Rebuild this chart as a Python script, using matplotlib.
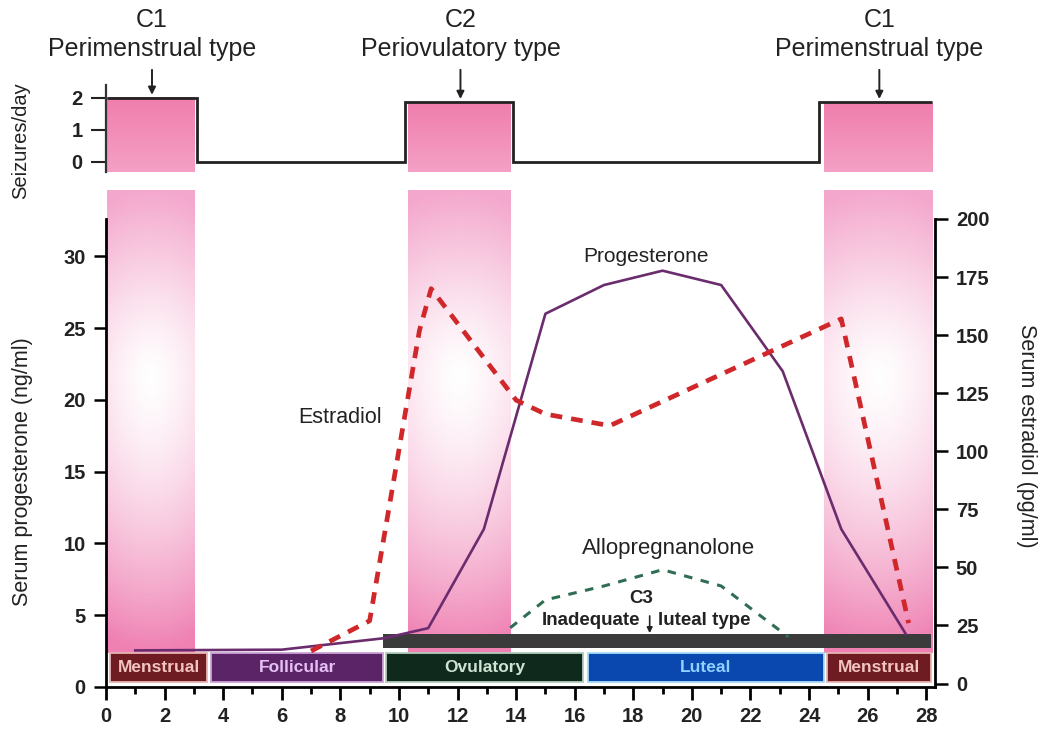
import numpy as np
import matplotlib
matplotlib.use('Agg')
import matplotlib.pyplot as plt

plt.rcParams['font.family'] = ['Liberation Sans', 'DejaVu Sans']

# ---------------- data ----------------
days_prog = [1.0, 6.0, 9.5, 11.0, 12.9, 15.0, 17.0, 19.0, 21.0, 23.1, 25.1, 27.3]
progesterone = [2.55, 2.6, 3.4, 4.1, 11.0, 26.0, 28.0, 29.0, 28.0, 22.0, 11.0, 3.7]

days_estr = [7.0, 9.0, 10.7, 11.1, 14.0, 15.0, 17.2, 25.1, 27.4]
estradiol = [14, 27, 152, 170, 122, 116, 111, 157, 26]

days_allo = [13.8, 15.0, 17.0, 19.0, 21.0, 23.3]
allopregnanolone = [24, 36, 42, 49, 42, 20]

seizure_edges = [0.05, 3.1, 10.2, 13.9, 24.35, 28.2]
seizure_rate = [2.0, 0.0, 1.87, 0.0, 1.87]

window_start = [0.05, 10.3, 24.5]
window_end = [3.05, 13.8, 28.2]
window_top = [2.0, 1.87, 1.87]
window_code = ['C1', 'C2', 'C1']
window_name = ['Perimenstrual type', 'Periovulatory type', 'Perimenstrual type']
window_label_x = [1.57, 12.1, 26.4]

phase_names = ['Menstrual', 'Follicular', 'Ovulatory', 'Luteal', 'Menstrual']
phase_start = [0.14, 3.6, 9.55, 16.45, 24.6]
phase_end = [3.45, 9.45, 16.3, 24.5, 28.15]
phase_colors = ['#6e1c22', '#5b2466', '#0f2a1c', '#0a48b0', '#6e1c22']
phase_edges = ['#e8b4b4', '#c9a3d4', '#b4cbbb', '#a6dcf5', '#e8b4b4']
phase_text = ['#f2c4c0', '#e6c0f4', '#cfe3d3', '#8fd0ff', '#f2c4c0']

c3_start, c3_end = 9.45, 28.15

# ---------------- figure ----------------
W, H = 1039, 732
fig = plt.figure(figsize=(W / 100, H / 100), dpi=100)
fig.patch.set_facecolor('white')

ax_top = fig.add_axes([106 / W, 1 - 172 / H, 829 / W, 87 / H])
ax = fig.add_axes([106 / W, 1 - 687 / H, 829 / W, 468 / H])
ax2 = ax.twinx()

XLIM = (0, 28.3)


def main_gradient(h=260, w=60, yc=0.6):
    yy = np.linspace(0, 1, h)[:, None]
    xx = np.linspace(-1, 1, w)[None, :]
    dv = np.where(yy > yc, (yy - yc) / (1 - yc), (yc - yy) / yc)
    r = np.clip(np.sqrt(dv ** 2 + 0.12 * xx ** 2), 0, 1) ** 1.35
    top = np.array([244, 168, 205])
    bot = np.array([239, 128, 178])
    pink = bot[None, None, :] + (top - bot)[None, None, :] * yy[..., None]
    img = 255 - (255 - pink) * r[..., None]
    return img / 255.0


def top_gradient(h=60, w=20):
    yy = np.linspace(0, 1, h)[:, None, None] * np.ones((1, w, 1))
    top = np.array([240, 126, 172])
    bot = np.array([244, 160, 196])
    img = bot + (top - bot) * yy
    return img / 255.0


# ---- top panel: seizures/day ----
for x0, x1, t in zip(window_start, window_end, window_top):
    ax_top.imshow(top_gradient(), extent=(x0, x1, -0.3125, t), origin='lower',
                  aspect='auto', interpolation='bilinear', zorder=0)
ax_top.stairs(seizure_rate, seizure_edges, baseline=None, color='#222222', lw=2.0, zorder=3)
ax_top.set_xlim(*XLIM)
ax_top.set_ylim(-0.3125, 2.406)
for s in ['top', 'right', 'bottom']:
    ax_top.spines[s].set_visible(False)
ax_top.spines['left'].set_linewidth(1.6)
ax_top.spines['left'].set_color('#333333')
ax_top.set_xticks([])
ax_top.set_yticks([0, 1, 2])
ax_top.tick_params(axis='y', length=11, width=1.5, pad=6, labelsize=14.5, colors='#222222')
plt.setp(ax_top.get_yticklabels(), fontweight='bold')

for code, name, lx, t in zip(window_code, window_name, window_label_x, window_top):
    ax_top.text(lx, 4.44, code, ha='center', va='center', fontsize=18, color='#222222')
    ax_top.text(lx, 3.52, name, ha='center', va='center', fontsize=18, color='#222222')
    ax_top.annotate('', xy=(lx, t + 0.1), xytext=(lx, 2.88),
                    arrowprops=dict(arrowstyle='-|>', color='#222222', lw=1.4,
                                    mutation_scale=11, shrinkA=0, shrinkB=0),
                    annotation_clip=False)

# ---- main panel ----
for x0, x1 in zip(window_start, window_end):
    ax.imshow(main_gradient(), extent=(x0, x1, 2.35, 34.6), origin='lower',
              aspect='auto', interpolation='bilinear', zorder=0, clip_on=False)

phase_width = np.array(phase_end) - np.array(phase_start)
ax.bar(phase_start, [2.02] * len(phase_start), width=phase_width, bottom=0.33,
       align='edge', color=phase_colors, edgecolor=phase_edges,
       linewidth=1.3, zorder=2)
for name, x0, x1, tc in zip(phase_names, phase_start, phase_end, phase_text):
    ax.text((x0 + x1) / 2, 1.34, name, ha='center', va='center', fontsize=12.5,
            fontweight='bold', color=tc, zorder=5)

ax.bar([c3_start], [0.97], width=[c3_end - c3_start], bottom=2.7, align='edge',
       color='#3b3b3b', edgecolor='none', zorder=3)

ax.plot(days_prog, progesterone, color='#6b2c6e', lw=1.9, zorder=4)

ax2.plot(days_allo, allopregnanolone, color='#2f6e52', lw=2.2, dashes=(2.8, 2.8), zorder=4)
ax2.plot(days_estr, estradiol, color='#d0282a', lw=3.4, dashes=(2.5, 1.9), zorder=5)

ax.set_xlim(*XLIM)
ax.set_ylim(0, 32.6)
ax2.set_ylim(-1.5, 200)

ax.set_xticks(range(0, 29, 2))
ax.set_xticks(range(1, 28, 2), minor=True)
ax.set_yticks(range(0, 31, 5))
ax2.set_yticks(range(0, 201, 25))

ax.spines['top'].set_visible(False)
ax.spines['right'].set_visible(False)
for s in ['top', 'left', 'bottom']:
    ax2.spines[s].set_visible(False)
for s in ['left', 'bottom']:
    ax.spines[s].set_linewidth(2.0)
ax2.spines['right'].set_linewidth(2.0)

ax.tick_params(axis='x', which='major', length=9.5, width=2.0, pad=5, labelsize=14.5)
ax.tick_params(axis='x', which='minor', length=5, width=2.0)
ax.tick_params(axis='y', length=8.5, width=1.8, pad=6, labelsize=14.5)
ax2.tick_params(axis='y', length=9, width=1.8, pad=6, labelsize=14.5)
plt.setp(ax.get_xticklabels() + ax.get_yticklabels() + ax2.get_yticklabels(),
         fontweight='bold', color='#222222')

# annotations in main panel
ax.text(18.43, 30.0, 'Progesterone', ha='center', va='center', fontsize=15, color='#222222')
ax.text(8.0, 18.8, 'Estradiol', ha='center', va='center', fontsize=15.5, color='#222222')
ax.text(19.2, 9.65, 'Allopregnanolone', ha='center', va='center', fontsize=16, color='#222222')
ax.text(18.26, 6.17, 'C3', ha='center', va='center', fontsize=13.5, fontweight='bold', color='#222222')
ax.text(18.25, 4.64, 'Inadequate', ha='right', va='center', fontsize=13.5, fontweight='bold', color='#222222')
ax.text(18.85, 4.64, 'luteal type', ha='left', va='center', fontsize=13.5, fontweight='bold', color='#222222')
ax.annotate('', xy=(18.56, 3.75), xytext=(18.56, 4.95),
            arrowprops=dict(arrowstyle='-|>', color='#222222', lw=1.2, mutation_scale=8,
                            shrinkA=0, shrinkB=0), zorder=6)

# axis labels
fig.text(21 / W, 1 - 141 / H, 'Seizures/day', rotation=90, ha='center', va='center',
         fontsize=14.5, color='#222222')
fig.text(23 / W, 1 - 472 / H, 'Serum progesterone (ng/ml)', rotation=90, ha='center',
         va='center', fontsize=15.5, color='#222222')
fig.text(1027 / W, 1 - 436 / H, 'Serum estradiol (pg/ml)', rotation=270, ha='center',
         va='center', fontsize=15.5, color='#222222')

fig.savefig('out.png', dpi=100, facecolor='white')
